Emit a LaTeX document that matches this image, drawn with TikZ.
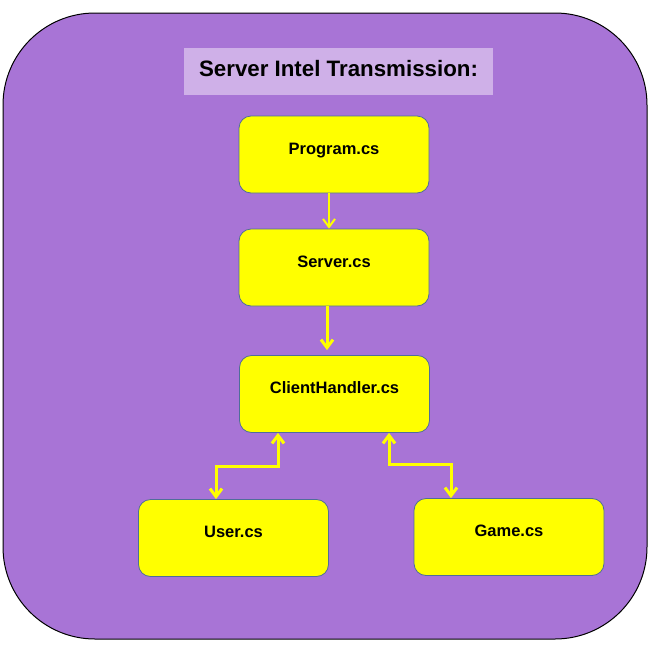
\documentclass[tikz,border=0pt]{standalone}
\usepackage{fontspec}
\setmainfont{Liberation Sans}
\usetikzlibrary{arrows.meta}

\definecolor{bgpurple}{HTML}{A874D6}
\definecolor{titlepurple}{HTML}{CFB0E8}
\definecolor{boxedge}{HTML}{4F6D9A}
\definecolor{boxyellow}{HTML}{FFFF00}

\tikzset{
  csfile/.style={draw=boxedge, line width=0.8pt, fill=boxyellow, rounded corners=12pt,
    minimum width=190pt, inner sep=0pt, text height=38pt, text depth=39pt,
    font=\bfseries\fontsize{16.5}{19}\selectfont},
  flow/.style={draw=boxyellow, line width=3pt, -{Straight Barb[length=8pt,width=12pt]}},
  dualflow/.style={flow, {Straight Barb[length=8pt,width=12pt]}-{Straight Barb[length=8pt,width=12pt]}}
}

\begin{document}
\begin{tikzpicture}[x=1pt,y=-1pt]
\useasboundingbox (0,0) rectangle (652,654);

% Background panel
\draw[fill=bgpurple, line width=1pt, rounded corners=92pt] (3,13) rectangle (647,639);

% Title
\node[fill=titlepurple, minimum width=309pt, inner sep=0pt, text height=28pt, text depth=19pt,
  font=\bfseries\fontsize{22.3}{26}\selectfont] (title) at (338.5,71.5) {Server Intel Transmission:};

% Source files
\node[csfile] (prog) at (334,154.5) {Program.cs};
\node[csfile] (srv) at (334,267.5) {Server.cs};
\node[csfile] (ch) at (334.5,394) {ClientHandler.cs};
\node[csfile] (usr) at (233.5,538) {User.cs};
\node[csfile] (game) at (509,537) {Game.cs};

% Connections
\draw[flow, line width=2pt] ([xshift=-5pt]prog.south) -- ([xshift=-5pt]srv.north);
\draw[flow, shorten >=5pt] ([xshift=-7pt]srv.south) -- ([xshift=-7.5pt]ch.north);
\draw[dualflow] ([xshift=-56.5pt]ch.south) -- ++(0,34) -| ([xshift=-17.5pt]usr.north);
\draw[dualflow] ([xshift=54.5pt]ch.south) -- ++(0,32) -| ([xshift=-58pt]game.north);

\end{tikzpicture}
\end{document}
